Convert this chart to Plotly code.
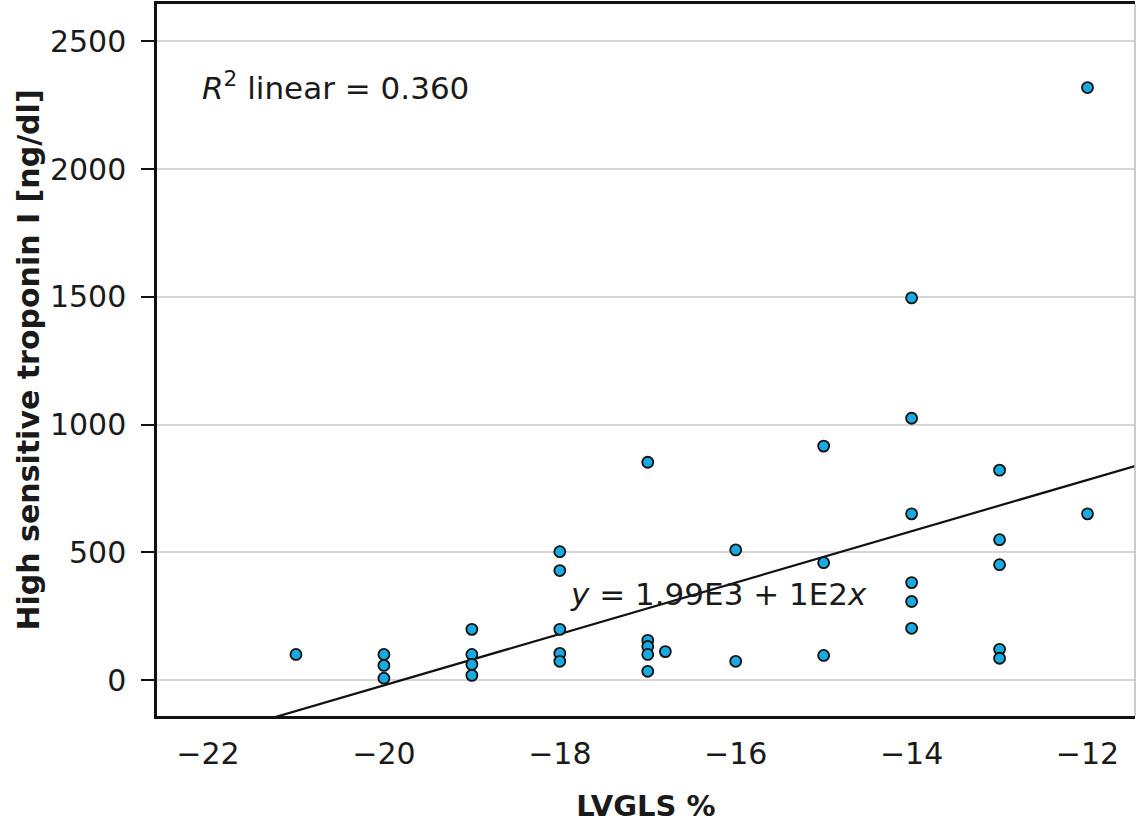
import numpy as np
import plotly.graph_objects as go

# Data
lvgls = [-21, -20, -20, -20, -19, -19, -19, -19,
         -18, -18, -18, -18, -18,
         -17, -17, -17, -17, -17, -16.8,
         -16, -16, -15, -15, -15,
         -14, -14, -14, -14, -14, -14,
         -13, -13, -13, -13, -13, -12, -12]
troponin = [101, 101, 58, 8, 199, 101, 62, 19,
            503, 429, 199, 105, 74,
            853, 156, 132, 101, 35, 112,
            510, 74, 916, 460, 97,
            1496, 1025, 651, 382, 308, 203,
            822, 550, 452, 121, 86, 2319, 651]

fit_intercept = 1990
fit_slope = 100.5
r2_text = "0.360"

x_range = [-22.58, -11.46]
y_range = [-140, 2646]
y_ticks = [0, 500, 1000, 1500, 2000, 2500]
x_ticks = [-22, -20, -18, -16, -14, -12]

line_x = np.array(x_range)
line_y = fit_intercept + fit_slope * line_x

FONT = "DejaVu Sans"
TXT = "#1a1a1a"
fig = go.Figure()
fig.add_trace(go.Scatter(x=line_x, y=line_y, mode="lines",
                         line=dict(color="#111111", width=2.2),
                         hoverinfo="skip", showlegend=False))
fig.add_trace(go.Scatter(x=lvgls, y=troponin, mode="markers",
                         marker=dict(size=11, color="#1aaae2",
                                     line=dict(color="#111111", width=1.8)),
                         showlegend=False, cliponaxis=False))

fig.add_annotation(x=0.044, y=0.885, xref="paper", yref="paper",
                   text="<i>R</i><sup>2</sup> linear = " + r2_text,
                   showarrow=False, xanchor="left", yanchor="middle",
                   font=dict(family=FONT, size=31, color=TXT))
fig.add_annotation(x=0.42, y=0.172, xref="paper", yref="paper",
                   text="<i>y</i> = 1.99E3 + 1E2<i>x</i>",
                   showarrow=False, xanchor="left", yanchor="middle",
                   font=dict(family=FONT, size=31, color=TXT))

# right border (light gray)
fig.add_shape(type="line", xref="paper", yref="paper", x0=1, x1=1, y0=0, y1=1,
              line=dict(color="#bbbbbb", width=1.5))

fig.update_layout(
    width=1136, height=823,
    margin=dict(l=157, r=1, t=1, b=107),
    paper_bgcolor="white", plot_bgcolor="white",
    font=dict(family=FONT, color=TXT),
    xaxis=dict(range=x_range, tickvals=x_ticks,
               ticktext=["\u2212" + str(abs(v)) for v in x_ticks],
               showgrid=False, zeroline=False,
               showline=True, linecolor="#111111", linewidth=2.5, mirror=True,
               ticks="outside", ticklen=9, tickcolor="rgba(0,0,0,0)",
               tickfont=dict(family=FONT, size=30, color=TXT),
               title=dict(text="<b>LVGLS %</b>", standoff=28,
                          font=dict(family=FONT, size=29, color=TXT))),
    yaxis=dict(range=y_range, tickvals=y_ticks,
               showgrid=True, gridcolor="#d6d6d6", gridwidth=2,
               zeroline=False,
               showline=True, linecolor="#111111", linewidth=2.5,
               ticks="outside", ticklen=13, tickwidth=2, tickcolor="#111111",
               ticklabelstandoff=9,
               tickfont=dict(family=FONT, size=30, color=TXT),
               title=dict(text="<b>High sensitive troponin I [ng/dl]</b>", standoff=2,
                          font=dict(family=FONT, size=30, color=TXT))),
)

fig.write_html("out.html", config={"displayModeBar": False},
               post_script="document.body.style.margin='0';document.body.style.overflow='hidden';")
